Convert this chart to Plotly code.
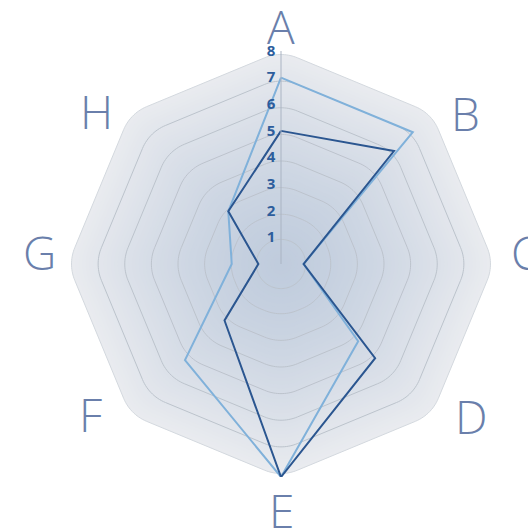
import numpy as np
import plotly.graph_objects as go

categories = ["A", "B", "C", "D", "E", "F", "G", "H"]
series_dark = [5, 6, 0.85, 5, 8, 3, 0.85, 2.8]
series_light = [7, 7, 0.85, 4.1, 8, 5.1, 1.85, 2.8]
radial_ticks = [1, 2, 3, 4, 5, 6, 7, 8]

W, H = 528, 531
CX, CY = 281, 264          # chart centre (px)
RAD = 213                  # pixel radius of the outer ring

# category label offsets from the chart centre (px, right / down)
label_offsets = [(0, -238), (184, -151), (244, -12), (190, 152),
                 (0, 246), (-191, 150), (-242, -12), (-185, -153)]

n = len(categories)
step = 360.0 / n
cat_theta = [i * step for i in range(n)]


def rounded_ring(R, rho_units, pts=16):
    """Rounded regular polygon (vertex distance R) in polar (r, theta clockwise from top)."""
    half = np.deg2rad(step / 2)
    a = R * np.cos(half)
    rho = min(rho_units, a)
    d = (a - rho) / np.cos(half)
    xs, ys = [], []
    for i in range(n):
        phi = np.deg2rad(i * step)
        cx, cy = d * np.sin(phi), d * np.cos(phi)
        for psi in np.linspace(phi - half, phi + half, pts):
            xs.append(cx + rho * np.sin(psi))
            ys.append(cy + rho * np.cos(psi))
    xs.append(xs[0]); ys.append(ys[0])
    xs, ys = np.array(xs), np.array(ys)
    r = np.hypot(xs, ys)
    th = np.rad2deg(np.arctan2(xs, ys)) % 360
    return r, th


RHO = 1.6
center_col = np.array([0xC0, 0xCC, 0xDD])
edge_col = np.array([0xE9, 0xEB, 0xEF])

fig = go.Figure()

# radial gradient background made of concentric rounded octagons
levels = np.linspace(8, 0.15, 60)
for R in levels:
    t = R / 8.0
    c = center_col + (edge_col - center_col) * (t ** 1.4)
    col = "rgb(%d,%d,%d)" % tuple(np.round(c).astype(int))
    r, th = rounded_ring(R, RHO)
    fig.add_trace(go.Scatterpolar(r=r, theta=th, mode="lines", fill="toself",
                                  fillcolor=col, line=dict(width=0, color=col),
                                  hoverinfo="skip", showlegend=False))

# grid rings
for k in radial_ticks:
    r, th = rounded_ring(k, RHO)
    fig.add_trace(go.Scatterpolar(r=r, theta=th, mode="lines",
                                  line=dict(width=1, color="#bcc3cc" if k < 8 else "#d3d8de"),
                                  hoverinfo="skip", showlegend=False))

# data series
for vals, col in [(series_light, "#80b1da"), (series_dark, "#2b5690")]:
    fig.add_trace(go.Scatterpolar(r=vals + [vals[0]], theta=cat_theta + [cat_theta[0]],
                                  mode="lines", line=dict(width=2, color=col),
                                  showlegend=False))

# category labels
annotations = []
for name, (dx, dy) in zip(categories, label_offsets):
    annotations.append(dict(
        x=(CX + dx) / W, y=1 - (CY + dy) / H, xref="paper", yref="paper",
        text=name, showarrow=False, xanchor="center", yanchor="middle",
        font=dict(family="Open Sans", size=46, color="#6a7fab", weight=300),
    ))

fig.update_layout(
    width=W, height=H,
    margin=dict(l=0, r=0, t=0, b=0),
    paper_bgcolor="white",
    showlegend=False,
    annotations=annotations,
    polar=dict(
        domain=dict(x=[(CX - RAD) / W, (CX + RAD) / W],
                    y=[1 - (CY + RAD) / H, 1 - (CY - RAD) / H]),
        bgcolor="rgba(0,0,0,0)",
        angularaxis=dict(
            type="linear", direction="clockwise", rotation=90,
            tickvals=cat_theta, showticklabels=False,
            showgrid=False, showline=False, ticks="",
        ),
        radialaxis=dict(
            range=[0, 8], angle=90, tickangle=90,
            tickvals=radial_ticks, ticktext=[str(v) for v in radial_ticks],
            showgrid=False, showline=True, linecolor="#aab4c3", linewidth=1,
            ticks="", side="counterclockwise",
            tickfont=dict(family="Open Sans", size=15, color="#2d5d9c", weight="bold"),
        ),
    ),
)

fig.write_html("out.html")
